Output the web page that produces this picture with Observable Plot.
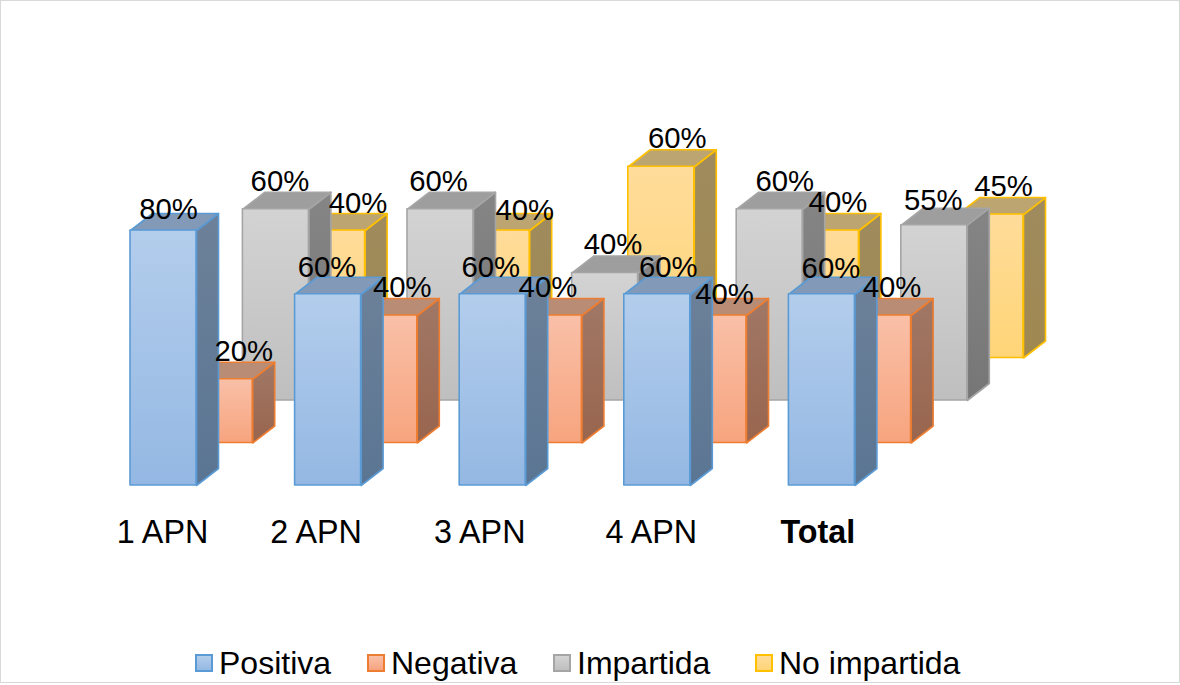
<!DOCTYPE html>
<html>
<head>
<meta charset="utf-8">
<script src="https://cdn.jsdelivr.net/npm/d3@7"></script>
<script src="https://cdn.jsdelivr.net/npm/@observablehq/plot@0.6"></script>
<style>
html, body { margin: 0; padding: 0; background: #fff; }
#frame { position: relative; width: 1180px; height: 683px; overflow: hidden; font-family: "Liberation Sans", Arial, sans-serif; }
#frame svg { display: block; }
#border { position: absolute; left: 0; top: 0; width: 1178px; height: 681px; border: 1px solid #d9d9d9; pointer-events: none; }
#legend { position: absolute; top: 644px; left: 0; height: 38px; display: flex; align-items: center; font-size: 32px; color: #000; white-space: nowrap; }
#legend .sw { display: inline-block; box-sizing: border-box; width: 18px; height: 18px; border-width: 2px; border-style: solid; margin-right: 6px; }
#legend .item { display: flex; align-items: center; position: absolute; top: 0; height: 38px; }
</style>
</head>
<body>
<div id="frame">
  <div id="chart"></div>
  <div id="legend"></div>
  <div id="border"></div>
</div>
<script>
// Data
const categories = ["1 APN", "2 APN", "3 APN", "4 APN", "Total"];
const seriesNames = ["Positiva", "Negativa", "Impartida", "No impartida"];
const positiva    = [80, 60, 60, 60, 60];
const negativa    = [20, 40, 40, 40, 40];
const impartida   = [60, 60, 40, 60, 55];
const noImpartida = [40, 40, 60, 40, 45];
const seriesValues = [positiva, negativa, impartida, noImpartida];

// Styles per series
const edge  = ["#5b9bd5", "#ed7d31", "#a5a5a5", "#ffc000"];
const front = [["#b3cdec", "#94b8e3"], ["#f9c0a8", "#f7a47e"], ["#d3d3d3", "#bfbfbf"], ["#ffdc9a", "#ffd577"]];
const side  = [["#6d8199", "#5a7593"], ["#a07866", "#99654e"], ["#858585", "#767676"], ["#9f8b5e", "#a08850"]];
const top_  = ["#829ab8", "#b98c76", "#9e9e9e", "#bca570"];

// Oblique projection, expressed in the chart's scale units
const pxPerCat = 164.6, pxPerPct = 3.1875;
const barW = 66 / pxPerCat;
const rowDx = 56.2 / pxPerCat, rowDy = 42.5 / pxPerPct;
const depthDx = 22 / pxPerCat, depthDy = 17 / pxPerPct;

const X = (cat, row, d = 0, w = 0) => cat + row * rowDx + d * depthDx + w * barW;
const Y = (val, row, d = 0) => val + row * rowDy + d * depthDy;

// Label nudges [dx, dy] in pixels from the top front edge's centre
const labelNudge = [
  [[5, -21], [-1, -27], [-2, -27], [11, -27], [9, -26]],
  [[24, -28], [18, -28], [-1, -28], [11, -21], [14, -28]],
  [[4, -28], [-2, -28], [8, -28], [15, -28], [-1, -25]],
  [[26, -27], [28, -20], [16, -28], [12, -28], [13, -28]]
];
const catNudge = [-1, -12, -13, -6, -4];

const bars = [], sides = [], tops = [], labels = [];
seriesValues.forEach((vals, s) => {
  bars[s] = []; sides[s] = []; tops[s] = [];
  vals.forEach((v, c) => {
    bars[s].push({x1: X(c, s), x2: X(c, s, 0, 1), y1: Y(0, s), y2: Y(v, s)});
    const idS = `${s}-${c}`;
    sides[s].push(
      {id: idS, x: X(c, s, 0, 1), y: Y(0, s)},
      {id: idS, x: X(c, s, 1, 1), y: Y(0, s, 1)},
      {id: idS, x: X(c, s, 1, 1), y: Y(v, s, 1)},
      {id: idS, x: X(c, s, 0, 1), y: Y(v, s)}
    );
    tops[s].push(
      {id: idS, x: X(c, s), y: Y(v, s)},
      {id: idS, x: X(c, s, 0, 1), y: Y(v, s)},
      {id: idS, x: X(c, s, 1, 1), y: Y(v, s, 1)},
      {id: idS, x: X(c, s, 1), y: Y(v, s, 1)}
    );
    const [dx, dy] = labelNudge[s][c];
    labels.push({
      text: v + "%",
      x: X(c, s, 0, 0.5) + dx / pxPerCat,
      y: Y(v, s) - dy / pxPerPct
    });
  });
});

const defs = () => {
  const d = d3.create("svg:defs");
  const grad = (id, [a, b]) => {
    const g = d.append("linearGradient").attr("id", id).attr("x1", 0).attr("y1", 0).attr("x2", 0).attr("y2", 1);
    g.append("stop").attr("offset", "0%").attr("stop-color", a);
    g.append("stop").attr("offset", "100%").attr("stop-color", b);
  };
  front.forEach((c, s) => grad(`front${s}`, c));
  side.forEach((c, s) => grad(`side${s}`, c));
  return d.node();
};

const marks = [defs];
for (const s of [3, 2, 1, 0]) {
  const common = {stroke: edge[s], strokeWidth: 1.6, strokeLinejoin: "round"};
  marks.push(
    Plot.line(sides[s], {x: "x", y: "y", z: "id", curve: "linear-closed", fill: `url(#side${s})`, ...common}),
    Plot.line(tops[s], {x: "x", y: "y", z: "id", curve: "linear-closed", fill: top_[s], ...common}),
    Plot.rect(bars[s], {x1: "x1", x2: "x2", y1: "y1", y2: "y2", inset: 0, fill: `url(#front${s})`, ...common})
  );
}
marks.push(Plot.text(labels, {x: "x", y: "y", text: "text", fontSize: 29.3, fill: "#000", lineAnchor: "middle"}));
categories.forEach((name, c) => {
  marks.push(Plot.text([name], {
    x: [X(c, 0, 0, 0.5) + catNudge[c] / pxPerCat],
    y: [0],
    dy: 47,
    text: d => d,
    fontSize: 32.3,
    fontWeight: name === "Total" ? "bold" : "normal",
    fill: "#000",
    lineAnchor: "middle"
  }));
});

const chart = Plot.plot({
  width: 1180,
  height: 640,
  margin: 0,
  style: {background: "transparent", fontFamily: '"Liberation Sans", Arial, sans-serif', overflow: "visible"},
  x: {axis: null, domain: [0, 4], range: [130, 130 + 4 * pxPerCat]},
  y: {axis: null, domain: [0, 100], range: [485, 485 - 100 * pxPerPct]},
  marks
});
document.getElementById("chart").append(chart);

const legendLeft = [195, 367, 553, 755];
const lg = document.getElementById("legend");
seriesNames.forEach((name, s) => {
  const item = document.createElement("div");
  item.className = "item";
  item.style.left = legendLeft[s] + "px";
  const sw = document.createElement("span");
  sw.className = "sw";
  sw.style.borderColor = edge[s];
  sw.style.background = `linear-gradient(${front[s][0]}, ${front[s][1]})`;
  const t = document.createElement("span");
  t.textContent = name;
  item.append(sw, t);
  lg.append(item);
});
</script>
</body>
</html>
